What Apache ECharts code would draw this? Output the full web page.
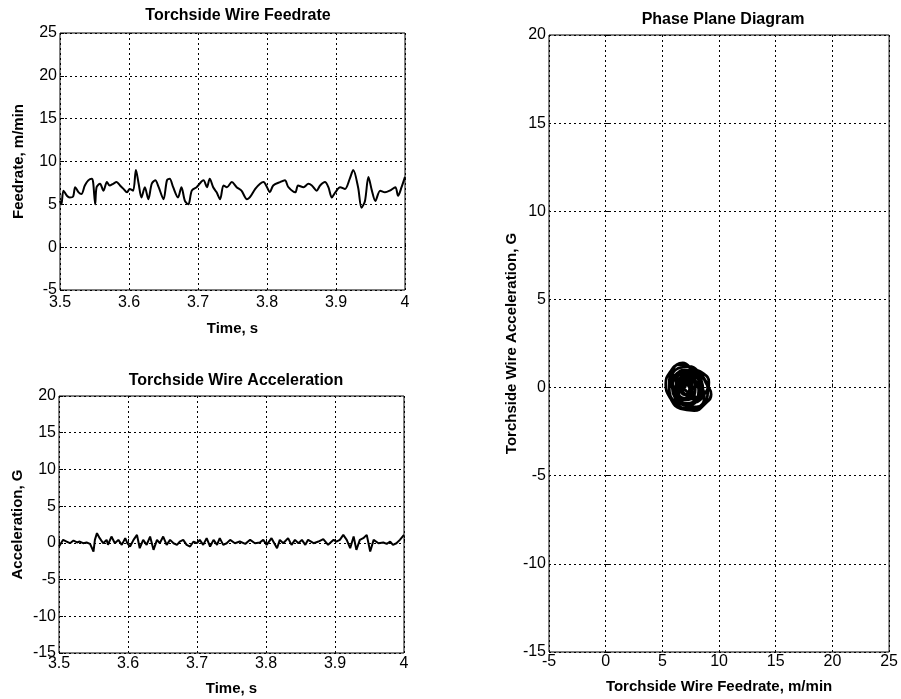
<!DOCTYPE html>
<html>
<head>
<meta charset="utf-8">
<script src="https://cdn.jsdelivr.net/npm/echarts@6/dist/echarts.min.js"></script>
<style>
  html, body { margin: 0; padding: 0; background: #fff; }
  #main { width: 901px; height: 699px; }
</style>
</head>
<body>
<div id="main"></div>
<script>
// feedrate trace (time s, m/min)
var feedTime = [3.500, 3.502, 3.505, 3.510, 3.514, 3.519, 3.522, 3.527, 3.531, 3.536, 3.541, 3.546, 3.548, 3.551, 3.553, 3.558,
  3.563, 3.568, 3.572, 3.577, 3.582, 3.587, 3.592, 3.597, 3.601, 3.606, 3.610, 3.614, 3.618, 3.623, 3.628, 3.633,
  3.638, 3.643, 3.650, 3.655, 3.659, 3.664, 3.671, 3.676, 3.681, 3.686, 3.691, 3.698, 3.708, 3.713, 3.717, 3.722,
  3.727, 3.732, 3.737, 3.742, 3.749, 3.756, 3.763, 3.771, 3.775, 3.783, 3.790, 3.795, 3.800, 3.804, 3.809, 3.819,
  3.826, 3.831, 3.841, 3.845, 3.853, 3.860, 3.865, 3.872, 3.877, 3.884, 3.889, 3.894, 3.899, 3.906, 3.913, 3.920,
  3.925, 3.932, 3.937, 3.942, 3.947, 3.952, 3.957, 3.964, 3.971, 3.978, 3.986, 3.990, 3.995, 4.000];
var feedRate = [5.4, 5.0, 6.6, 6.0, 5.8, 5.9, 7.0, 6.4, 6.2, 7.2, 7.8, 8.0, 7.6, 5.0, 7.0, 7.4,
  6.6, 7.6, 7.2, 7.4, 7.6, 7.2, 6.8, 6.4, 6.8, 6.6, 9.0, 7.4, 5.8, 7.0, 5.6, 7.4,
  7.8, 7.0, 5.6, 7.8, 8.0, 7.0, 5.8, 7.0, 5.4, 5.0, 6.6, 7.0, 7.8, 7.0, 8.0, 7.0,
  6.4, 5.6, 7.2, 7.0, 7.6, 7.0, 6.6, 5.6, 5.8, 6.8, 7.4, 7.6, 7.0, 6.4, 7.2, 7.6,
  7.8, 7.0, 6.4, 7.2, 7.0, 7.4, 7.2, 6.6, 7.2, 7.6, 7.0, 5.8, 6.4, 7.0, 6.8, 8.0,
  9.0, 7.0, 4.6, 5.4, 8.2, 6.6, 5.4, 6.6, 6.4, 6.6, 7.0, 6.0, 7.0, 8.2];

// acceleration trace (time s, G)
var accTime = [3.500, 3.501, 3.506, 3.511, 3.516, 3.521, 3.526, 3.530, 3.535, 3.540, 3.545, 3.547, 3.550, 3.552, 3.555, 3.559,
  3.564, 3.569, 3.571, 3.576, 3.581, 3.586, 3.591, 3.596, 3.599, 3.603, 3.608, 3.613, 3.617, 3.622, 3.627, 3.632,
  3.637, 3.642, 3.646, 3.651, 3.656, 3.661, 3.666, 3.671, 3.675, 3.680, 3.685, 3.690, 3.695, 3.700, 3.704, 3.709,
  3.714, 3.719, 3.724, 3.729, 3.733, 3.738, 3.743, 3.748, 3.755, 3.762, 3.770, 3.777, 3.784, 3.791, 3.796, 3.801,
  3.808, 3.816, 3.820, 3.825, 3.832, 3.837, 3.842, 3.847, 3.852, 3.857, 3.861, 3.869, 3.876, 3.883, 3.890, 3.898,
  3.902, 3.907, 3.912, 3.917, 3.922, 3.927, 3.931, 3.936, 3.941, 3.946, 3.951, 3.956, 3.963, 3.970, 3.975, 3.980,
  3.984, 3.989, 3.994, 4.000];
var accel = [-0.5, -0.27, 0.41, 0.18, -0.05, 0.32, 0.05, 0.18, -0.05, 0.05, -0.14, -0.27, -1.18, 0.41, 1.32, 0.64,
  -0.05, 0.41, -0.27, 0.86, -0.05, 0.41, -0.27, 0.64, -0.05, -0.5, 0.41, 1.09, -0.73, 0.41, -0.27, 0.86,
  -0.95, 0.41, -0.05, 0.86, -0.27, 0.41, -0.05, -0.27, 0.18, 0.41, -0.27, -0.5, 0.18, -0.05, 0.41, -0.27,
  0.64, -0.5, 0.41, -0.27, 0.64, -0.27, -0.05, 0.41, -0.05, 0.18, -0.14, 0.41, -0.05, 0.05, 0.41, -0.27,
  0.64, -0.73, 0.41, -0.05, 0.64, -0.27, 0.41, -0.05, 0.41, -0.27, 0.41, -0.05, 0.18, 0.5, -0.27, 0.41,
  0.18, 0.41, 1.09, 0.41, -0.73, 0.86, -0.95, 0.41, 0.64, 1.09, -1.18, 0.41, -0.05, 0.05, -0.14, 0.18,
  -0.27, -0.05, 0.41, 1.09];

// phase plane trajectory (feedrate m/min, acceleration G)
var phaseFeed = [7.0, 7.8, 8.6, 9.0, 8.5, 7.4, 6.2, 5.6, 5.9, 6.8, 7.6, 8.3, 8.7, 8.0, 6.9, 6.0,
  5.8, 6.4, 7.3, 8.2, 8.9, 9.3, 8.8, 7.8, 6.6, 5.7, 5.3, 5.7, 6.5, 7.5, 8.4, 8.6, 8.1, 7.2,
  6.3, 5.9, 6.3, 7.2, 7.9, 7.8, 7.0, 6.3, 6.2, 6.9, 7.6, 7.5, 6.9, 6.6, 7.0, 7.4, 8.1, 8.4,
  8.0, 7.1, 6.4, 6.1, 6.6, 7.4, 8.0, 8.8, 9.1, 8.6, 7.6, 6.5, 5.9,
  6.2, 7.0, 7.6, 7.5, 6.9, 6.4, 6.5, 7.1, 7.9, 8.2, 7.8, 7.0, 6.2, 5.9, 6.2, 7.0, 7.9, 8.4,
  8.1, 7.3, 6.8, 7.2, 7.6, 7.3, 6.7, 6.4, 6.7, 7.3, 7.8,
  7.0, 7.4, 7.1, 6.7, 6.8, 7.5, 7.9, 7.6, 6.9, 6.3, 6.5, 7.2, 7.8, 8.3, 8.0, 7.2, 6.6];
var phaseAcc = [0.0, 0.9, 0.6, -0.2, -1.0, -1.2, -0.9, 0.0, 1.0, 1.4, 1.0, 0.3, -0.5, -1.1, -1.0, -0.4,
  0.5, 1.1, 1.2, 0.9, 0.2, -0.4, -0.9, -1.3, -1.2, -0.6, 0.2, 0.9, 1.3, 1.1, 0.5, -0.3, -0.8, -0.9,
  -0.6, 0.1, 0.8, 0.9, 0.4, -0.4, -0.7, -0.3, 0.4, 0.8, 0.5, -0.2, -0.4, 0.1, 0.3, 0.0, -0.6, 0.0,
  0.6, 0.7, 0.4, -0.3, -0.8, -1.0, -0.8, -0.3, 0.3, 0.8, 1.0, 0.9, 0.3,
  0.5, 0.5, 0.2, -0.4, -0.6, -0.2, 0.4, 0.6, 0.4, -0.2, -0.8, -0.9, -0.6, 0.0, 0.7, 1.0, 0.8, 0.1,
  -0.6, -0.3, 0.1, 0.2, -0.1, -0.4, -0.3, 0.1, 0.4, 0.3, -0.1,
  0.4, 0.0, -0.4, -0.2, 0.3, 0.5, -0.1, -0.6, -0.7, -0.3, 0.3, 0.7, 0.3, -0.3, -0.7, -0.5, 0.0];

function pairs(xs, ys) {
  return xs.map(function (x, i) { return [x, ys[i]]; });
}

var font = 'Liberation Sans, Arial, sans-serif';
var gridLine = { show: true, lineStyle: { color: '#000', type: [2, 3], width: 1 } };
var tickIn = { show: true, inside: true, length: 4, lineStyle: { color: '#000' } };
var lbl = { color: '#000', fontSize: 16, fontFamily: font };
var nameStyle = { color: '#000', fontSize: 15, fontWeight: 'bold', fontFamily: font };
var titleStyle = { color: '#000', fontSize: 16, fontWeight: 'bold', fontFamily: font };

function timeAxis(gi, gap, margin) {
  return {
    gridIndex: gi, type: 'value', min: 3.5, max: 4, interval: 0.1,
    name: 'Time, s', nameLocation: 'middle', nameGap: gap, nameTextStyle: nameStyle,
    axisLine: { show: false }, axisTick: tickIn, splitLine: gridLine,
    axisLabel: Object.assign({ margin: margin, formatter: function (v) { return String(+v.toFixed(1)); } }, lbl)
  };
}
function valAxis(gi, min, max, name, gap) {
  return {
    gridIndex: gi, type: 'value', min: min, max: max, interval: 5,
    name: name, nameLocation: 'middle', nameGap: gap, nameTextStyle: nameStyle,
    axisLine: { show: false }, axisTick: tickIn, splitLine: gridLine,
    axisLabel: Object.assign({ margin: 3 }, lbl)
  };
}

var chart = echarts.init(document.getElementById('main'));
chart.setOption({
  animation: false,
  backgroundColor: '#fff',
  title: [
    { text: 'Torchside Wire Feedrate', left: 233, top: 3, textAlign: 'center', textStyle: titleStyle },
    { text: 'Torchside Wire Acceleration', left: 231, top: 368, textAlign: 'center', textStyle: titleStyle },
    { text: 'Phase Plane Diagram', left: 718, top: 7, textAlign: 'center', textStyle: titleStyle }
  ],
  grid: [
    { left: 60, top: 33, width: 345, height: 257, show: true, borderColor: '#000', borderWidth: 1 },
    { left: 59, top: 396, width: 345, height: 257, show: true, borderColor: '#000', borderWidth: 1 },
    { left: 549, top: 35, width: 343, height: 622, show: true, borderColor: '#000', borderWidth: 1 }
  ],
  xAxis: [
    timeAxis(0, 31, 5),
    timeAxis(1, 28, 3),
    {
      gridIndex: 2, type: 'value', min: -5, max: 25, interval: 5,
      name: 'Torchside Wire Feedrate, m/min', nameLocation: 'middle', nameGap: 27, nameTextStyle: nameStyle,
      axisLine: { show: false }, axisTick: tickIn, splitLine: gridLine,
      axisLabel: Object.assign({ margin: 2 }, lbl)
    }
  ],
  yAxis: [
    valAxis(0, -5, 25, 'Feedrate, m/min', 34),
    valAxis(1, -15, 20, 'Acceleration, G', 34),
    valAxis(2, -15, 20, 'Torchside Wire Acceleration, G', 28)
  ],
  series: [
    {
      type: 'line', xAxisIndex: 0, yAxisIndex: 0, data: pairs(feedTime, feedRate),
      showSymbol: false, smooth: 0.3, lineStyle: { color: '#000', width: 2 }
    },
    {
      type: 'line', xAxisIndex: 1, yAxisIndex: 1, data: pairs(accTime, accel),
      showSymbol: false, lineStyle: { color: '#000', width: 2 }
    },
    {
      type: 'line', xAxisIndex: 2, yAxisIndex: 2, data: pairs(phaseFeed, phaseAcc),
      showSymbol: false, smooth: 0.5, lineStyle: { color: '#000', width: 2.8 }
    }
  ]
});
</script>
</body>
</html>
